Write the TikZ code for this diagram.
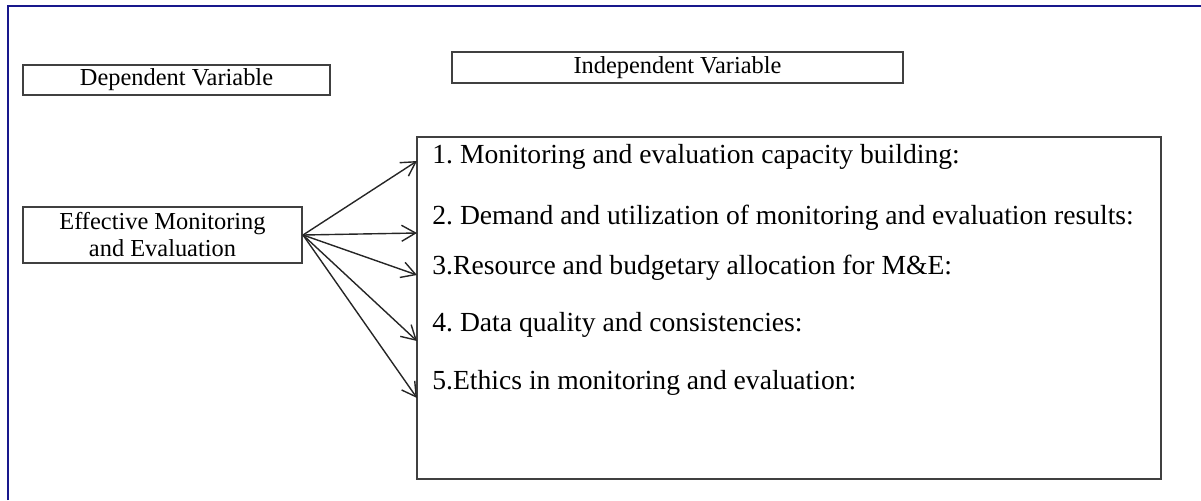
\documentclass[tikz,border=0pt]{standalone}
\usepackage{fontspec}
\setmainfont{Liberation Serif}
\usetikzlibrary{arrows.meta}

\definecolor{framenavy}{RGB}{24,24,140}
\definecolor{boxgray}{RGB}{64,64,64}

\tikzset{
    varbox/.style={draw=boxgray, line width=1pt, inner sep=0pt, align=center,
        font=\fontsize{12.2}{13.5}\selectfont},
    itemtext/.style={anchor=west, inner sep=0pt, font=\fontsize{13.8}{16}\selectfont},
    link/.style={line width=0.7pt, draw=black!85, -{Straight Barb[length=7pt,width=8pt]}}
}

\begin{document}
\frenchspacing
\begin{tikzpicture}[x=0.5pt, y=-0.5pt]
    \useasboundingbox (0,0) rectangle (1201,500);

    % page frame, top and left edge only
    \draw[framenavy, line width=1pt] (8,500) -- (8,5.5) -- (1201,5.5);

    % variable headings
    \node[varbox, minimum width=153.5pt, minimum height=15pt] (dep) at (176.5,80) {Dependent Variable};
    \node[varbox, minimum width=225.5pt, minimum height=15.5pt] (indep) at (677.5,67.5) {Independent Variable};

    % dependent variable
    \node[varbox, minimum width=139.5pt, minimum height=28pt] (me) at (162.5,235) {Effective Monitoring\\and Evaluation};

    % list of independent variables
    \node[draw=boxgray, line width=1pt, minimum width=372pt, minimum height=171pt, inner sep=0pt] (list) at (789,308) {};
    \node[itemtext] (item1) at (432,157) {1. Monitoring and evaluation capacity building:};
    \node[itemtext] (item2) at (432,218) {2. Demand and utilization of monitoring and evaluation results:};
    \node[itemtext] (item3) at (432,268) {3.Resource and budgetary allocation for M\&E:};
    \node[itemtext] (item4) at (432,325) {4. Data quality and consistencies:};
    \node[itemtext] (item5) at (432,383) {5.Ethics in monitoring and evaluation:};

    % arrow ends on the left side of the list
    \coordinate (in1) at (417,161);
    \coordinate (in2) at (417,233);
    \coordinate (in3) at (417,275);
    \coordinate (in4) at (417,341);
    \coordinate (in5) at (417,398);

    \foreach \i in {1,...,5}
        \draw[link] (me.east) -- (in\i);
\end{tikzpicture}
\end{document}
